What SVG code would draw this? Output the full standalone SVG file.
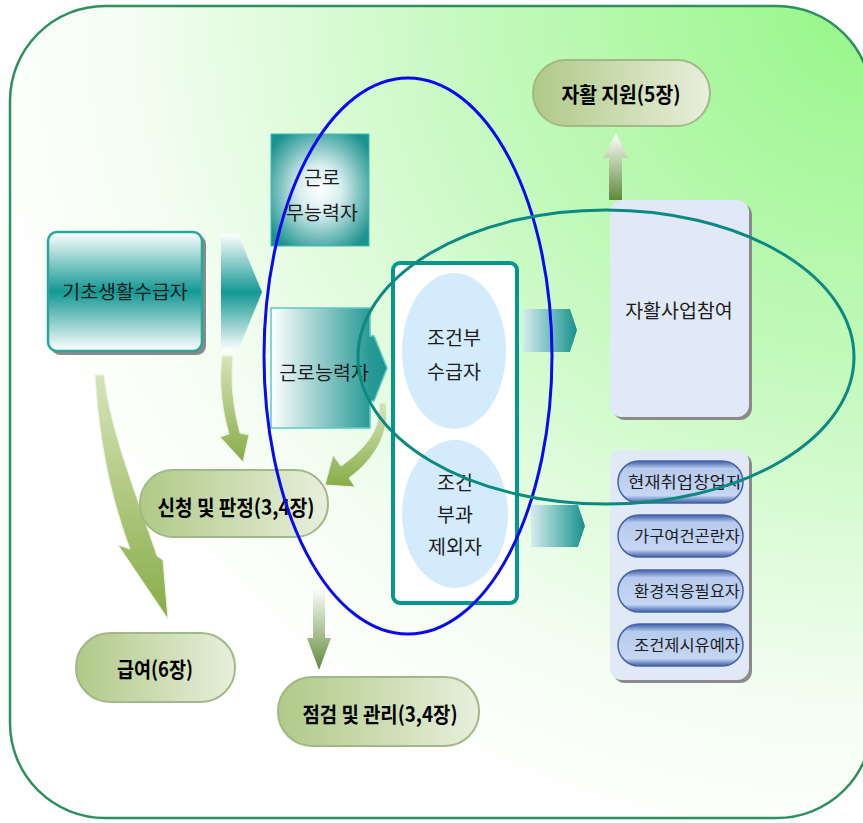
<svg xmlns="http://www.w3.org/2000/svg" width="863" height="823" viewBox="0 0 863 823">
<defs>
  <radialGradient id="bg" cx="1" cy="0" r="1.05">
    <stop offset="0" stop-color="#96f688"/>
    <stop offset="0.45" stop-color="#c6f9bf"/>
    <stop offset="0.8" stop-color="#f2fdf0"/>
    <stop offset="1" stop-color="#ffffff"/>
  </radialGradient>
  <linearGradient id="tealV" x1="0" y1="0" x2="0" y2="1">
    <stop offset="0" stop-color="#ffffff"/>
    <stop offset="0.5" stop-color="#139893"/>
    <stop offset="1" stop-color="#ffffff"/>
  </linearGradient>
  <radialGradient id="tealR" cx="0.5" cy="0.5" r="0.62">
    <stop offset="0" stop-color="#ffffff"/>
    <stop offset="0.35" stop-color="#d7eeee"/>
    <stop offset="1" stop-color="#1a928e"/>
  </radialGradient>
  <linearGradient id="tealH" x1="0" y1="0" x2="1" y2="0">
    <stop offset="0" stop-color="#ffffff"/>
    <stop offset="0.85" stop-color="#2a9a96"/>
    <stop offset="1" stop-color="#1b938f"/>
  </linearGradient>
  <linearGradient id="tealA" x1="0" y1="0" x2="1" y2="0">
    <stop offset="0" stop-color="#d6ecee"/>
    <stop offset="1" stop-color="#16918c"/>
  </linearGradient>
  <linearGradient id="gpill" x1="0" y1="0" x2="1" y2="0">
    <stop offset="0" stop-color="#b0c987"/>
    <stop offset="1" stop-color="#e8efdc"/>
  </linearGradient>
  <linearGradient id="gcurve" x1="0" y1="0" x2="0" y2="1">
    <stop offset="0" stop-color="#d6e4b8"/>
    <stop offset="1" stop-color="#88ac48"/>
  </linearGradient>
  <linearGradient id="gstraight" x1="0" y1="0" x2="0" y2="1">
    <stop offset="0" stop-color="#ffffff"/>
    <stop offset="1" stop-color="#5f8a3a"/>
  </linearGradient>
  <linearGradient id="bpill" x1="0" y1="0" x2="0" y2="1">
    <stop offset="0" stop-color="#3e5ea6"/>
    <stop offset="0.18" stop-color="#b7cbee"/>
    <stop offset="0.82" stop-color="#c6d6f3"/>
    <stop offset="1" stop-color="#3e5ea6"/>
  </linearGradient>
</defs>
<style>
  .t{font-family:"Noto Sans CJK KR","Noto Sans",sans-serif;font-size:19.5px;fill:#1c1c1c;text-anchor:middle}
  .s{font-size:16px}
  .b{font-family:"Noto Sans CJK KR","Noto Sans",sans-serif;font-weight:bold;font-size:21px;fill:#000;text-anchor:middle}
  .gp{fill:url(#gpill);stroke:#a3b887;stroke-width:2}
  .bp{fill:url(#bpill);stroke:#4663a9;stroke-width:1.5}
  .sh{fill:#8a8a8a}
  .lav{fill:#e1e9f7}
  .ga{fill:url(#gcurve);stroke:#eef3e4;stroke-width:1}
  .ta{fill:url(#tealA)}
</style>

<rect id="background" x="10" y="6" width="862" height="812" rx="95" fill="url(#bg)" stroke="#2f8f5e" stroke-width="2.5"/>

<g id="connectors">
  <path class="ga" d="M95,375 C100,450 112,500 130,549 L118,545 L168,619 L163,560 L157,556 C135,490 110,430 104,375 Z"/>
  <path class="ga" d="M222,356 C218,390 224,415 229,434 L220,437 L243,462 L249,435 L240,433 C234,410 230,385 233,356 Z"/>
  <path class="ga" d="M379,403 C381,428 368,447 341,466 L333,455 L325,485 L355,487 L349,478 C376,458 390,432 386,403 Z"/>
  <polygon fill="url(#gstraight)" points="616,133 628,158 622,158 622,200 609,200 609,158 603,158"/>
  <polygon fill="url(#gstraight)" points="313,588 325,588 325,638 331,638 319,670 307,638 313,638"/>
  <polygon class="ta" points="523,309 570,309 577,330 570,352 523,352"/>
  <polygon class="ta" points="531,505 578,505 585,526 578,547 531,547"/>
  <polygon fill="url(#tealV)" points="221,234 238,234 262,292 238,351 221,351"/>
</g>

<g id="basic">
  <rect class="sh" x="51" y="235" width="155" height="120" rx="9"/>
  <rect x="48" y="232" width="154" height="119" rx="9" fill="url(#tealV)" stroke="#2aa79b" stroke-width="2.5"/>
  <text class="t" x="125" y="299">기초생활수급자</text>
</g>

<g id="unable">
  <rect x="271" y="134" width="98" height="112" fill="url(#tealR)" stroke="#3fbcb8" stroke-width="1"/>
  <text class="t" x="322" y="185">근로</text>
  <text class="t" x="322" y="220">무능력자</text>
</g>

<g id="able">
  <path d="M271,308 H370 V336 L374,336 L387,368 L374,401 L370,401 V428 H271 Z" fill="url(#tealH)" stroke="#5cc9c3" stroke-width="1.5"/>
  <text class="t" x="324" y="380">근로능력자</text>
</g>

<g id="container">
  <rect x="393" y="263" width="124" height="340" rx="7" fill="#ffffff" stroke="#05978c" stroke-width="4"/>
</g>
<g id="cond">
  <ellipse cx="454" cy="351" rx="52" ry="78" fill="#d3ebfb"/>
  <text class="t" x="454" y="345">조건부</text>
  <text class="t" x="454" y="379">수급자</text>
</g>
<g id="excl">
  <ellipse cx="455" cy="514" rx="53" ry="74" fill="#d3ebfb"/>
  <text class="t" x="455" y="490">조건</text>
  <text class="t" x="455" y="522">부과</text>
  <text class="t" x="455" y="554">제외자</text>
</g>

<g id="selfwork">
  <rect class="sh" x="613" y="203" width="139" height="217" rx="12"/>
  <rect class="lav" x="610" y="200" width="139" height="217" rx="12"/>
  <text class="t" x="679" y="318">자활사업참여</text>
</g>

<g id="support">
  <rect class="gp" x="533" y="60" width="177" height="66" rx="33"/>
  <text class="b" x="621" y="102" textLength="119" lengthAdjust="spacingAndGlyphs">자활 지원(5장)</text>
</g>

<g id="list">
  <rect class="sh" x="613" y="453" width="139" height="230" rx="12"/>
  <rect class="lav" x="610" y="450" width="139" height="230" rx="12"/>
</g>
<g id="item1">
  <rect class="bp" x="618" y="461" width="125" height="42" rx="21"/>
  <text class="t s" x="685" y="488" textLength="114" lengthAdjust="spacingAndGlyphs">현재취업창업자</text>
</g>
<g id="item2">
  <rect class="bp" x="618" y="515" width="125" height="42" rx="21"/>
  <text class="t s" x="687" y="542" textLength="106" lengthAdjust="spacingAndGlyphs">가구여건곤란자</text>
</g>
<g id="item3">
  <rect class="bp" x="618" y="570" width="125" height="42" rx="21"/>
  <text class="t s" x="687" y="597" textLength="106" lengthAdjust="spacingAndGlyphs">환경적응필요자</text>
</g>
<g id="item4">
  <rect class="bp" x="618" y="624" width="125" height="42" rx="21"/>
  <text class="t s" x="687" y="651" textLength="106" lengthAdjust="spacingAndGlyphs">조건제시유예자</text>
</g>

<g id="apply">
  <rect class="gp" x="140" y="470" width="188" height="67" rx="33"/>
  <text class="b" x="236" y="515" textLength="157" lengthAdjust="spacingAndGlyphs">신청 및 판정(3,4장)</text>
</g>
<g id="benefit">
  <rect class="gp" x="76" y="633" width="159" height="69" rx="34"/>
  <text class="b" x="155" y="677" textLength="76" lengthAdjust="spacingAndGlyphs">급여(6장)</text>
</g>
<g id="check">
  <rect class="gp" x="278" y="677" width="201" height="69" rx="34"/>
  <text class="b" x="380" y="722" textLength="155" lengthAdjust="spacingAndGlyphs">점검 및 관리(3,4장)</text>
</g>

<g id="circles" fill="none">
  <ellipse cx="408" cy="356" rx="144" ry="278" stroke="#0a0af0" stroke-width="3"/>
  <ellipse cx="606" cy="357" rx="248" ry="147" stroke="#0a8a80" stroke-width="3"/>
</g>
</svg>
